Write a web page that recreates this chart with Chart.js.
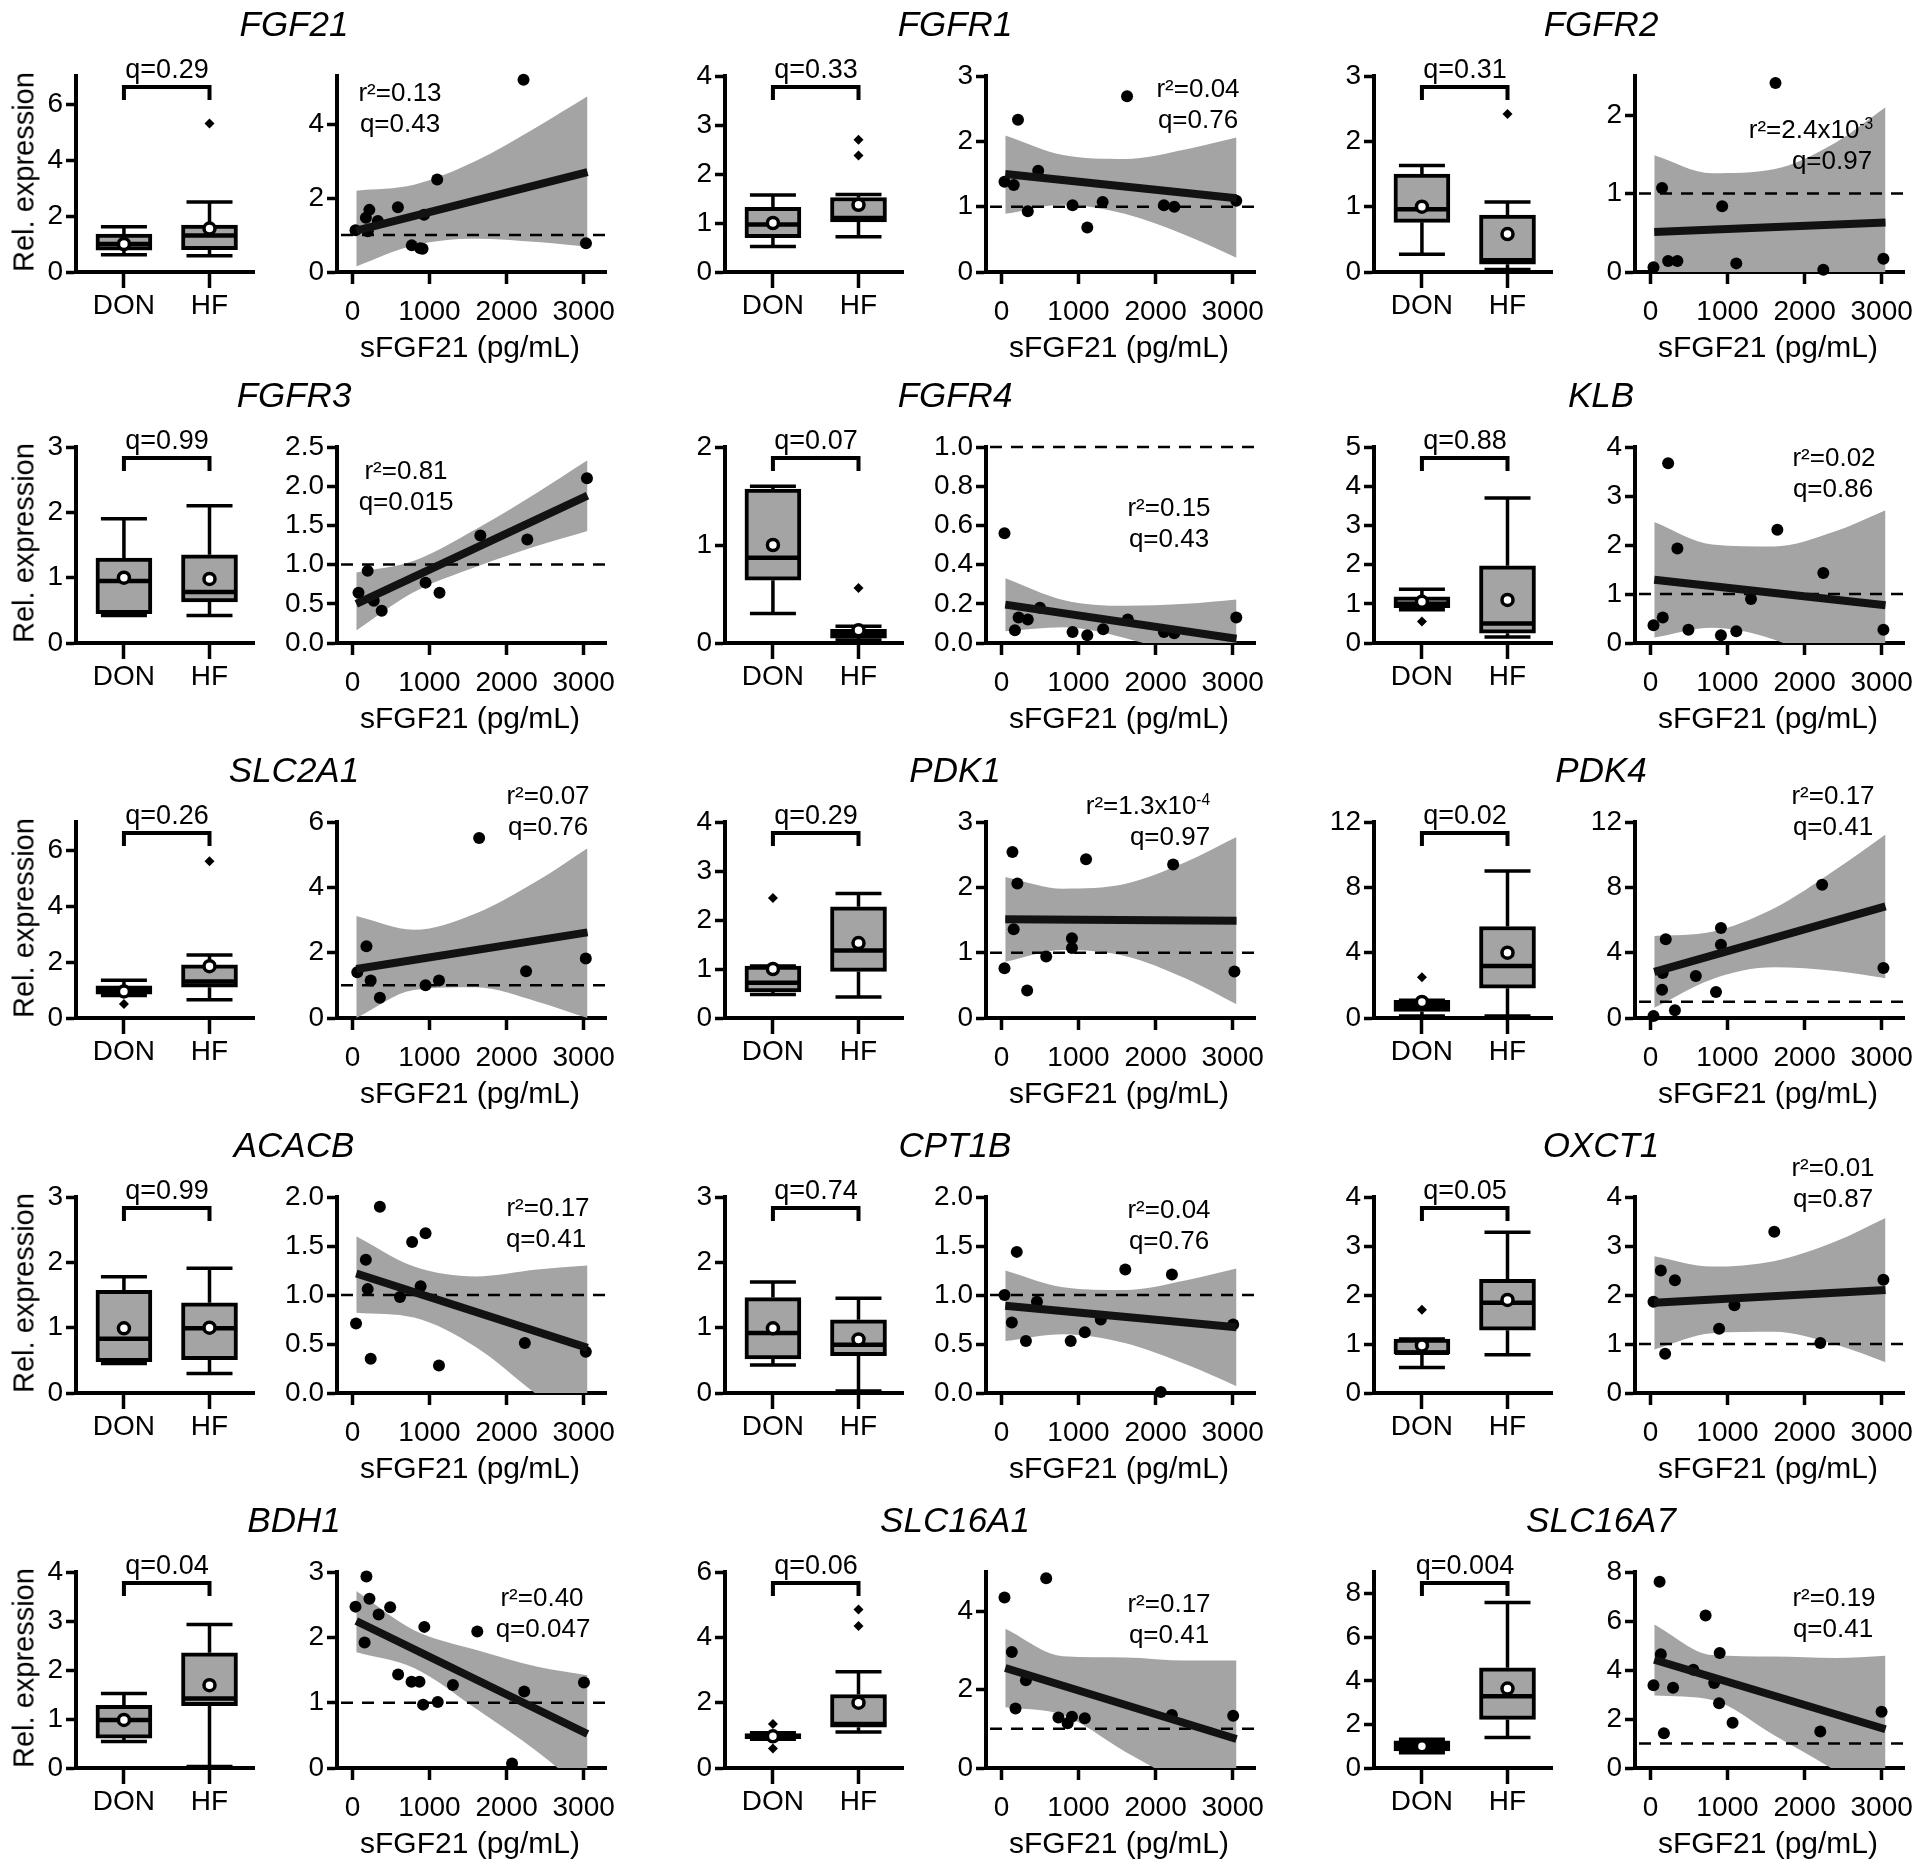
<!DOCTYPE html>
<html>
<head>
<meta charset="utf-8">
<script src="https://cdn.jsdelivr.net/npm/chart.js"></script>
<style>
  html, body { margin: 0; padding: 0; background: #fff; overflow: hidden; }
  #fig { position: relative; width: 1920px; height: 1864px; overflow: hidden;
         font-family: 'Liberation Sans', Arial, Helvetica, sans-serif; color: #000; }
  canvas { position: absolute; }
  .lbl { position: absolute; transform: translate(-50%, -50%); white-space: nowrap; line-height: 1; }
  .gene { font-size: 35px; font-style: italic; }
  .q { font-size: 27px; }
  .stat { font-size: 26px; }
  .xt { font-size: 30px; }
  .yt { font-size: 29px; transform: translate(-50%, -50%) rotate(-90deg); }
  sup { font-size: 0.6em; position: relative; top: -0.6em; vertical-align: baseline; line-height: 0; }
</style>
</head>
<body>
<div id="fig"></div>
<script>
// box stats are [lower whisker, Q1, median, Q3, upper whisker, mean]
const groups = ['DON', 'HF'];
const sfgfTicks = [0, 1000, 2000, 3000];
const bandX = [50, 800, 1600, 2400, 3050];   // sFGF21 values where the 95% band was read
const fitX = [50, 3050];

// FGF21
const fgf21Don = [0.62, 0.78, 1.0, 1.35, 1.62, 1.0];
const fgf21Hf = [0.58, 0.8, 1.3, 1.68, 2.5, 1.55];
const fgf21DonOut = [];
const fgf21HfOut = [5.3];
const fgf21X = [2220, 1100, 590, 220, 175, 330, 930, 40, 200, 770, 880, 910, 3030];
const fgf21Y = [5.2, 2.5, 1.75, 1.68, 1.47, 1.38, 1.55, 1.13, 1.1, 0.72, 0.64, 0.63, 0.78];
const fgf21Fit = [1.12, 2.7];
const fgf21Up = [2.2, 2.36, 3.0, 3.93, 4.75];
const fgf21Lo = [0.15, 0.72, 0.9, 0.81, 0.68];

// FGFR1
const fgfr1Don = [0.52, 0.7, 0.97, 1.32, 1.57, 1.0];
const fgfr1Hf = [0.72, 1.02, 1.1, 1.52, 1.58, 1.37];
const fgfr1DonOut = [];
const fgfr1HfOut = [2.38, 2.7];
const fgfr1X = [1630, 215, 477, 40, 160, 342, 923, 1313, 1114, 2108, 2243, 3047];
const fgfr1Y = [2.69, 2.33, 1.55, 1.38, 1.33, 0.93, 1.02, 1.07, 0.68, 1.02, 1.0, 1.09];
const fgfr1Fit = [1.5, 1.13];
const fgfr1Up = [2.09, 1.79, 1.73, 1.88, 2.06];
const fgfr1Lo = [0.89, 1.03, 0.89, 0.56, 0.22];

// FGFR2
const fgfr2Don = [0.27, 0.76, 0.96, 1.5, 1.63, 1.0];
const fgfr2Hf = [0.04, 0.12, 0.18, 0.87, 1.07, 0.58];
const fgfr2DonOut = [];
const fgfr2HfOut = [2.42];
const fgfr2X = [1623, 151, 931, 40, 230, 350, 1114, 2243, 3023];
const fgfr2Y = [2.41, 1.07, 0.84, 0.06, 0.14, 0.14, 0.11, 0.03, 0.17];
const fgfr2Fit = [0.51, 0.63];
const fgfr2Up = [1.49, 1.26, 1.31, 1.65, 2.1];
const fgfr2Lo = [-0.47, -0.18, -0.17, -0.45, -0.86];

// FGFR3
const fgfr3Don = [0.42, 0.45, 0.95, 1.3, 1.9, 1.0];
const fgfr3Hf = [0.42, 0.63, 0.78, 1.35, 2.1, 0.98];
const fgfr3DonOut = [];
const fgfr3HfOut = [];
const fgfr3X = [3043, 1660, 2269, 198, 949, 1130, 79, 277, 380];
const fgfr3Y = [2.1, 1.37, 1.32, 0.92, 0.77, 0.64, 0.64, 0.54, 0.41];
const fgfr3Fit = [0.5, 1.88];
const fgfr3Up = [0.9, 1.05, 1.45, 1.92, 2.33];
const fgfr3Lo = [0.16, 0.65, 0.97, 1.24, 1.43];

// FGFR4
const fgfr4Don = [0.3, 0.64, 0.87, 1.57, 1.6, 1.0];
const fgfr4Hf = [0.03, 0.05, 0.09, 0.14, 0.17, 0.13];
const fgfr4DonOut = [];
const fgfr4HfOut = [0.56];
const fgfr4X = [40, 175, 223, 342, 500, 923, 1114, 1320, 1640, 2108, 2243, 3047];
const fgfr4Y = [0.56, 0.065, 0.13, 0.12, 0.18, 0.056, 0.04, 0.07, 0.12, 0.056, 0.05, 0.13];
const fgfr4Fit = [0.196, 0.022];
const fgfr4Up = [0.33, 0.22, 0.19, 0.2, 0.222];
const fgfr4Lo = [0.06, 0.08, 0.026, -0.075, -0.178];

// KLB
const klbDon = [0.85, 0.9, 1.0, 1.18, 1.37, 1.05];
const klbHf = [0.15, 0.25, 0.5, 1.97, 3.7, 1.1];
const klbDonOut = [0.55];
const klbHfOut = [];
const klbX = [230, 350, 1647, 2243, 1305, 40, 160, 493, 915, 1114, 3023];
const klbY = [3.67, 1.93, 2.31, 1.43, 0.9, 0.36, 0.52, 0.27, 0.16, 0.24, 0.27];
const klbFit = [1.29, 0.77];
const klbUp = [2.47, 2.01, 1.97, 2.28, 2.71];
const klbLo = [0.11, 0.31, 0.07, -0.52, -1.17];

// SLC2A1
const slc2a1Don = [0.8, 0.85, 1.0, 1.15, 1.35, 0.95];
const slc2a1Hf = [0.65, 1.1, 1.3, 1.9, 2.25, 1.85];
const slc2a1DonOut = [0.5];
const slc2a1HfOut = [5.6];
const slc2a1X = [1644, 182, 63, 237, 356, 949, 1123, 2253, 3028];
const slc2a1Y = [5.51, 2.2, 1.4, 1.15, 0.62, 1.0, 1.15, 1.43, 1.82];
const slc2a1Fit = [1.5, 2.62];
const slc2a1Up = [3.12, 2.7, 3.2, 4.2, 5.2];
const slc2a1Lo = [0.0, 0.86, 0.94, 0.5, 0.0];

// PDK1
const pdk1Don = [0.48, 0.53, 0.72, 1.06, 1.06, 1.0];
const pdk1Hf = [0.43, 0.95, 1.38, 2.27, 2.54, 1.53];
const pdk1DonOut = [2.45];
const pdk1HfOut = [];
const pdk1X = [143, 207, 1098, 2228, 159, 915, 915, 581, 40, 334, 3023];
const pdk1Y = [2.54, 2.06, 2.43, 2.35, 1.36, 1.22, 1.07, 0.94, 0.76, 0.42, 0.71];
const pdk1Fit = [1.51, 1.49];
const pdk1Up = [2.16, 1.98, 2.05, 2.39, 2.77];
const pdk1Lo = [0.86, 1.04, 0.95, 0.6, 0.21];

// PDK4
const pdk4Don = [0.12, 0.4, 0.75, 1.08, 1.08, 0.98];
const pdk4Hf = [0.12, 1.82, 3.18, 5.6, 9.0, 4.0];
const pdk4DonOut = [2.5];
const pdk4HfOut = [];
const pdk4X = [2228, 915, 915, 199, 159, 151, 589, 851, 318, 40, 3023];
const pdk4Y = [8.16, 5.51, 4.49, 4.82, 2.76, 1.73, 2.57, 1.59, 0.47, 0.12, 3.06];
const pdk4Fit = [2.82, 6.84];
const pdk4Up = [5.02, 5.28, 6.7, 9.07, 11.24];
const pdk4Lo = [0.62, 2.38, 3.1, 2.87, 2.44];

// ACACB
const acacbDon = [0.45, 0.48, 0.83, 1.57, 1.78, 0.99];
const acacbHf = [0.3, 0.51, 0.99, 1.38, 1.91, 1.0];
const acacbDonOut = [];
const acacbHfOut = [];
const acacbX = [356, 949, 775, 174, 198, 885, 617, 47, 237, 1123, 2237, 3028];
const acacbY = [1.9, 1.63, 1.54, 1.36, 1.06, 1.09, 0.98, 0.71, 0.35, 0.28, 0.51, 0.42];
const acacbFit = [1.22, 0.46];
const acacbUp = [1.6, 1.29, 1.19, 1.26, 1.3];
const acacbLo = [0.82, 0.77, 0.47, -0.02, -0.38];

// CPT1B
const cpt1bDon = [0.43, 0.52, 0.92, 1.46, 1.7, 0.99];
const cpt1bHf = [0.03, 0.57, 0.74, 1.12, 1.45, 0.82];
const cpt1bDonOut = [];
const cpt1bHfOut = [];
const cpt1bX = [199, 1607, 2212, 40, 461, 135, 318, 899, 1082, 1289, 2068, 3007];
const cpt1bY = [1.44, 1.26, 1.21, 1.0, 0.93, 0.72, 0.53, 0.53, 0.62, 0.75, 0.01, 0.7];
const cpt1bFit = [0.89, 0.67];
const cpt1bUp = [1.25, 1.08, 1.05, 1.15, 1.27];
const cpt1bLo = [0.53, 0.6, 0.51, 0.29, 0.07];

// OXCT1
const oxct1Don = [0.52, 0.8, 0.82, 1.1, 1.1, 0.97];
const oxct1Hf = [0.78, 1.28, 1.84, 2.32, 3.28, 1.9];
const oxct1DonOut = [1.7];
const oxct1HfOut = [];
const oxct1X = [1607, 135, 318, 40, 1090, 891, 191, 2204, 3023];
const oxct1Y = [3.29, 2.5, 2.3, 1.86, 1.79, 1.31, 0.8, 1.02, 2.31];
const oxct1Fit = [1.84, 2.1];
const oxct1Up = [2.79, 2.58, 2.69, 3.09, 3.57];
const oxct1Lo = [0.89, 1.22, 1.25, 0.99, 0.63];

// BDH1
const bdh1Don = [0.54, 0.61, 0.98, 1.28, 1.52, 0.98];
const bdh1Hf = [0.03, 1.27, 1.42, 2.35, 2.93, 1.69];
const bdh1DonOut = [];
const bdh1HfOut = [];
const bdh1X = [182, 221, 40, 490, 340, 933, 1620, 158, 593, 767, 870, 1304, 2229, 3004, 917, 1107, 2071];
const bdh1Y = [2.93, 2.59, 2.47, 2.46, 2.35, 2.16, 2.09, 1.92, 1.43, 1.32, 1.32, 1.27, 1.17, 1.31, 0.97, 1.01, 0.07];
const bdh1Fit = [2.25, 0.52];
const bdh1Up = [2.71, 2.11, 1.81, 1.55, 1.42];
const bdh1Lo = [1.77, 1.53, 0.91, 0.25, -0.38];

// SLC16A1
const slc16a1Don = [0.88, 0.9, 0.97, 1.05, 1.08, 0.97];
const slc16a1Hf = [1.1, 1.25, 1.35, 2.25, 2.95, 2.0];
const slc16a1DonOut = [0.6, 1.35];
const slc16a1HfOut = [4.35, 4.85];
const slc16a1X = [581, 40, 135, 318, 183, 740, 915, 859, 1082, 2212, 3007];
const slc16a1Y = [4.84, 4.35, 2.96, 2.24, 1.52, 1.29, 1.31, 1.14, 1.27, 1.35, 1.33];
const slc16a1Fit = [2.55, 0.74];
const slc16a1Up = [3.55, 2.85, 2.82, 2.74, 2.74];
const slc16a1Lo = [1.55, 1.35, 0.42, -0.46, -1.26];

// SLC16A7
const slc16a7Don = [0.7, 0.78, 1.0, 1.25, 1.32, 1.0];
const slc16a7Hf = [1.4, 2.23, 3.3, 4.6, 7.6, 3.65];
const slc16a7DonOut = [];
const slc16a7HfOut = [];
const slc16a7X = [119, 716, 135, 899, 557, 40, 294, 827, 891, 1066, 175, 2204, 2999];
const slc16a7Y = [7.6, 6.22, 4.64, 4.69, 4.01, 3.38, 3.28, 3.47, 2.64, 1.85, 1.42, 1.49, 2.3];
const slc16a7Fit = [4.42, 1.58];
const slc16a7Up = [5.86, 4.61, 4.55, 4.49, 4.58];
const slc16a7Lo = [2.96, 2.78, 1.35, -0.11, -1.42];

const panels = [
  { gene: 'FGF21', q: 'q=0.29', r2: 'r²=0.13', rq: 'q=0.43', boxMax: 7, boxTicks: [0, 2, 4, 6], scMax: 5.3, scTicks: [0, 2, 4], dec: 0,
    don: fgf21Don, hf: fgf21Hf, donOut: fgf21DonOut, hfOut: fgf21HfOut, xs: fgf21X, ys: fgf21Y, fit: fgf21Fit, up: fgf21Up, lo: fgf21Lo },
  { gene: 'FGFR1', q: 'q=0.33', r2: 'r²=0.04', rq: 'q=0.76', boxMax: 4, boxTicks: [0, 1, 2, 3, 4], scMax: 3, scTicks: [0, 1, 2, 3], dec: 0,
    don: fgfr1Don, hf: fgfr1Hf, donOut: fgfr1DonOut, hfOut: fgfr1HfOut, xs: fgfr1X, ys: fgfr1Y, fit: fgfr1Fit, up: fgfr1Up, lo: fgfr1Lo },
  { gene: 'FGFR2', q: 'q=0.31', r2: 'r²=2.4x10<sup>-3</sup>', rq: 'q=0.97', boxMax: 3, boxTicks: [0, 1, 2, 3], scMax: 2.5, scTicks: [0, 1, 2], dec: 0,
    don: fgfr2Don, hf: fgfr2Hf, donOut: fgfr2DonOut, hfOut: fgfr2HfOut, xs: fgfr2X, ys: fgfr2Y, fit: fgfr2Fit, up: fgfr2Up, lo: fgfr2Lo },
  { gene: 'FGFR3', q: 'q=0.99', r2: 'r²=0.81', rq: 'q=0.015', boxMax: 3, boxTicks: [0, 1, 2, 3], scMax: 2.5, scTicks: [0, 0.5, 1, 1.5, 2, 2.5], dec: 1,
    don: fgfr3Don, hf: fgfr3Hf, donOut: fgfr3DonOut, hfOut: fgfr3HfOut, xs: fgfr3X, ys: fgfr3Y, fit: fgfr3Fit, up: fgfr3Up, lo: fgfr3Lo },
  { gene: 'FGFR4', q: 'q=0.07', r2: 'r²=0.15', rq: 'q=0.43', boxMax: 2, boxTicks: [0, 1, 2], scMax: 1, scTicks: [0, 0.2, 0.4, 0.6, 0.8, 1], dec: 1,
    don: fgfr4Don, hf: fgfr4Hf, donOut: fgfr4DonOut, hfOut: fgfr4HfOut, xs: fgfr4X, ys: fgfr4Y, fit: fgfr4Fit, up: fgfr4Up, lo: fgfr4Lo },
  { gene: 'KLB', q: 'q=0.88', r2: 'r²=0.02', rq: 'q=0.86', boxMax: 5, boxTicks: [0, 1, 2, 3, 4, 5], scMax: 4, scTicks: [0, 1, 2, 3, 4], dec: 0,
    don: klbDon, hf: klbHf, donOut: klbDonOut, hfOut: klbHfOut, xs: klbX, ys: klbY, fit: klbFit, up: klbUp, lo: klbLo },
  { gene: 'SLC2A1', q: 'q=0.26', r2: 'r²=0.07', rq: 'q=0.76', boxMax: 7, boxTicks: [0, 2, 4, 6], scMax: 6, scTicks: [0, 2, 4, 6], dec: 0,
    don: slc2a1Don, hf: slc2a1Hf, donOut: slc2a1DonOut, hfOut: slc2a1HfOut, xs: slc2a1X, ys: slc2a1Y, fit: slc2a1Fit, up: slc2a1Up, lo: slc2a1Lo },
  { gene: 'PDK1', q: 'q=0.29', r2: 'r²=1.3x10<sup>-4</sup>', rq: 'q=0.97', boxMax: 4, boxTicks: [0, 1, 2, 3, 4], scMax: 3, scTicks: [0, 1, 2, 3], dec: 0,
    don: pdk1Don, hf: pdk1Hf, donOut: pdk1DonOut, hfOut: pdk1HfOut, xs: pdk1X, ys: pdk1Y, fit: pdk1Fit, up: pdk1Up, lo: pdk1Lo },
  { gene: 'PDK4', q: 'q=0.02', r2: 'r²=0.17', rq: 'q=0.41', boxMax: 12, boxTicks: [0, 2, 4, 6, 8, 10, 12], scMax: 12, scTicks: [0, 2, 4, 6, 8, 10, 12], dec: 0,
    don: pdk4Don, hf: pdk4Hf, donOut: pdk4DonOut, hfOut: pdk4HfOut, xs: pdk4X, ys: pdk4Y, fit: pdk4Fit, up: pdk4Up, lo: pdk4Lo },
  { gene: 'ACACB', q: 'q=0.99', r2: 'r²=0.17', rq: 'q=0.41', boxMax: 3, boxTicks: [0, 1, 2, 3], scMax: 2, scTicks: [0, 0.5, 1, 1.5, 2], dec: 1,
    don: acacbDon, hf: acacbHf, donOut: acacbDonOut, hfOut: acacbHfOut, xs: acacbX, ys: acacbY, fit: acacbFit, up: acacbUp, lo: acacbLo },
  { gene: 'CPT1B', q: 'q=0.74', r2: 'r²=0.04', rq: 'q=0.76', boxMax: 3, boxTicks: [0, 1, 2, 3], scMax: 2, scTicks: [0, 0.5, 1, 1.5, 2], dec: 1,
    don: cpt1bDon, hf: cpt1bHf, donOut: cpt1bDonOut, hfOut: cpt1bHfOut, xs: cpt1bX, ys: cpt1bY, fit: cpt1bFit, up: cpt1bUp, lo: cpt1bLo },
  { gene: 'OXCT1', q: 'q=0.05', r2: 'r²=0.01', rq: 'q=0.87', boxMax: 4, boxTicks: [0, 1, 2, 3, 4], scMax: 4, scTicks: [0, 1, 2, 3, 4], dec: 0,
    don: oxct1Don, hf: oxct1Hf, donOut: oxct1DonOut, hfOut: oxct1HfOut, xs: oxct1X, ys: oxct1Y, fit: oxct1Fit, up: oxct1Up, lo: oxct1Lo },
  { gene: 'BDH1', q: 'q=0.04', r2: 'r²=0.40', rq: 'q=0.047', boxMax: 4, boxTicks: [0, 1, 2, 3, 4], scMax: 3, scTicks: [0, 1, 2, 3], dec: 0,
    don: bdh1Don, hf: bdh1Hf, donOut: bdh1DonOut, hfOut: bdh1HfOut, xs: bdh1X, ys: bdh1Y, fit: bdh1Fit, up: bdh1Up, lo: bdh1Lo },
  { gene: 'SLC16A1', q: 'q=0.06', r2: 'r²=0.17', rq: 'q=0.41', boxMax: 6, boxTicks: [0, 2, 4, 6], scMax: 5, scTicks: [0, 2, 4], dec: 0,
    don: slc16a1Don, hf: slc16a1Hf, donOut: slc16a1DonOut, hfOut: slc16a1HfOut, xs: slc16a1X, ys: slc16a1Y, fit: slc16a1Fit, up: slc16a1Up, lo: slc16a1Lo },
  { gene: 'SLC16A7', q: 'q=0.004', r2: 'r²=0.19', rq: 'q=0.41', boxMax: 9, boxTicks: [0, 2, 4, 6, 8], scMax: 8, scTicks: [0, 2, 4, 6, 8], dec: 0,
    don: slc16a7Don, hf: slc16a7Hf, donOut: slc16a7DonOut, hfOut: slc16a7HfOut, xs: slc16a7X, ys: slc16a7Y, fit: slc16a7Fit, up: slc16a7Up, lo: slc16a7Lo }
];

// layout (px)
const colX = [0, 649, 1298];
const rowBase = [272, 643, 1018, 1393, 1768];
const titleX = [294, 306, 303];
// r² label: [centre x, y offset from axis], q label: [centre x]
const statPos = [
  [400, -180, 400], [549, -184, 549], [513, -143, 534],
  [406, -173, 406], [520, -136, 520], [536, -186, 535],
  [548, -223, 548], [499, -213, 521], [535, -223, 535],
  [548, -186, 546], [520, -184, 520], [535, -226, 535],
  [542, -171, 543], [520, -165, 520], [536, -171, 535]
];
const AREA_H = 196, Y_W = 70, X_H = 62, PAD_T = 40, PAD_R = 45;
const BOX_L = 76, BOX_R = 254, SC_L = 337, SC_R = 606;
const GRAY = '#a4a4a4';

Chart.defaults.font.family = "'Liberation Sans', Arial, Helvetica, sans-serif";
Chart.defaults.color = '#000';

const fig = document.getElementById('fig');

function place(cls, html, x, y) {
  const d = document.createElement('div');
  d.className = 'lbl ' + cls;
  d.innerHTML = html;
  d.style.left = x + 'px';
  d.style.top = y + 'px';
  fig.appendChild(d);
}

function makeCanvas(left, top, w, h) {
  const c = document.createElement('canvas');
  c.width = w; c.height = h;
  c.style.left = left + 'px'; c.style.top = top + 'px';
  c.style.width = w + 'px'; c.style.height = h + 'px';
  fig.appendChild(c);
  return c;
}

function axisBase() {
  return {
    offset: false,
    border: { display: true, color: '#000', width: 4 },
    grid: { display: true, offset: false, drawOnChartArea: false, drawTicks: true, tickLength: 10, tickWidth: 3.5, tickColor: '#000' }
  };
}

function yAxis(max, ticks, dec) {
  const a = axisBase();
  return Object.assign(a, {
    type: 'linear', min: 0, max: max,
    afterBuildTicks: s => { s.ticks = ticks.map(v => ({ value: v })); },
    afterFit: s => { s.width = Y_W; },
    ticks: { font: { size: 28 }, color: '#000', padding: 3, callback: v => Number(v).toFixed(dec) }
  });
}

function xAxis(min, max, ticks, fmt, tickLen, pad) {
  const a = axisBase();
  a.grid.tickLength = tickLen;
  return Object.assign(a, {
    type: 'linear', min: min, max: max,
    afterBuildTicks: s => { s.ticks = ticks.map(v => ({ value: v })); },
    afterFit: s => { s.height = X_H; },
    ticks: { font: { size: 28 }, color: '#000', padding: pad, maxRotation: 0, autoSkip: false, callback: fmt }
  });
}

function boxParts(stats) {
  return {
    id: 'boxParts',
    afterDatasetDraw(chart, args) {
      if (args.index !== 2) return;
      const { ctx, chartArea } = chart;
      const x = chart.scales.x, y = chart.scales.y;
      ctx.save();
      ctx.strokeStyle = '#000';
      ctx.lineCap = 'butt';
      stats.forEach((s, i) => {
        const cx = x.getPixelForValue(i + 1);
        ctx.lineWidth = 3.5;
        ctx.beginPath();
        ctx.moveTo(cx, y.getPixelForValue(s[0])); ctx.lineTo(cx, y.getPixelForValue(s[1]));
        ctx.moveTo(cx, y.getPixelForValue(s[3])); ctx.lineTo(cx, y.getPixelForValue(s[4]));
        ctx.moveTo(cx - 23, y.getPixelForValue(s[0])); ctx.lineTo(cx + 23, y.getPixelForValue(s[0]));
        ctx.moveTo(cx - 23, y.getPixelForValue(s[4])); ctx.lineTo(cx + 23, y.getPixelForValue(s[4]));
        ctx.stroke();
        ctx.lineWidth = 4.5;
        ctx.beginPath();
        ctx.moveTo(cx - 27, y.getPixelForValue(s[2])); ctx.lineTo(cx + 27, y.getPixelForValue(s[2]));
        ctx.stroke();
      });
      // significance bracket
      const x1 = x.getPixelForValue(1), x2 = x.getPixelForValue(2);
      const top = chartArea.top + 11, leg = chartArea.top + 24;
      ctx.lineWidth = 4;
      ctx.lineJoin = 'miter';
      ctx.beginPath();
      ctx.moveTo(x1, leg); ctx.lineTo(x1, top); ctx.lineTo(x2, top); ctx.lineTo(x2, leg);
      ctx.stroke();
      ctx.restore();
    }
  };
}

function refLine(value) {
  return {
    id: 'refLine',
    afterDatasetDraw(chart, args) {
      if (args.index !== 2) return;
      const { ctx, chartArea } = chart;
      const py = chart.scales.y.getPixelForValue(value);
      ctx.save();
      ctx.strokeStyle = '#000';
      ctx.lineWidth = 2.5;
      ctx.setLineDash([12, 9]);
      ctx.beginPath();
      ctx.moveTo(chartArea.left + 4, py);
      ctx.lineTo(chartArea.right + 4, py);
      ctx.stroke();
      ctx.restore();
    }
  };
}

const common = {
  responsive: false, animation: false, events: [], devicePixelRatio: 1,
  layout: { padding: { top: PAD_T, right: PAD_R, left: 0, bottom: 0 } },
  plugins: { legend: { display: false }, tooltip: { enabled: false } }
};

function boxChart(p, gx, base) {
  const w = Y_W + (BOX_R - BOX_L) + PAD_R, h = PAD_T + AREA_H + X_H;
  const c = makeCanvas(gx + BOX_L - Y_W, base - AREA_H - PAD_T, w, h);
  const outliers = p.donOut.map(v => ({ x: 1, y: v })).concat(p.hfOut.map(v => ({ x: 2, y: v })));
  new Chart(c, {
    type: 'scatter',
    data: {
      datasets: [
        { type: 'scatter', data: [{ x: 1, y: p.don[5] }, { x: 2, y: p.hf[5] }], pointRadius: 5.5,
          pointBackgroundColor: '#fff', pointBorderColor: '#000', pointBorderWidth: 3.5, clip: false, order: 0 },
        { type: 'scatter', data: outliers, pointStyle: 'rectRot', pointRadius: 5,
          pointBackgroundColor: '#000', pointBorderWidth: 0, clip: false, order: 1 },
        { type: 'bar', data: [{ x: 1, y: [p.don[1], p.don[3]] }, { x: 2, y: [p.hf[1], p.hf[3]] }],
          backgroundColor: GRAY, borderColor: '#000', borderWidth: 4, borderSkipped: false, barThickness: 56, order: 2 }
      ]
    },
    options: Object.assign({}, common, {
      scales: {
        x: xAxis(0.44, 2.52, [1, 2], v => groups[v - 1], 16, 1),
        y: yAxis(p.boxMax, p.boxTicks, 0)
      }
    }),
    plugins: [boxParts([p.don, p.hf])]
  });
}

function scatterChart(p, gx, base) {
  const w = Y_W + (SC_R - SC_L) + PAD_R, h = PAD_T + AREA_H + X_H;
  const c = makeCanvas(gx + SC_L - Y_W, base - AREA_H - PAD_T, w, h);
  new Chart(c, {
    type: 'scatter',
    data: {
      datasets: [
        { type: 'line', data: fitX.map((v, i) => ({ x: v, y: p.fit[i] })), borderColor: '#121212', borderWidth: 8,
          borderCapStyle: 'butt', pointRadius: 0, fill: false, order: 0 },
        { type: 'scatter', data: p.xs.map((v, i) => ({ x: v, y: p.ys[i] })), pointRadius: 6,
          pointBackgroundColor: '#000', pointBorderWidth: 0, clip: false, order: 1 },
        { type: 'line', data: bandX.map((v, i) => ({ x: v, y: p.up[i] })), borderColor: 'rgba(0,0,0,0)', borderWidth: 0,
          pointRadius: 0, fill: '+1', backgroundColor: GRAY, cubicInterpolationMode: 'monotone', order: 2 },
        { type: 'line', data: bandX.map((v, i) => ({ x: v, y: p.lo[i] })), borderColor: 'rgba(0,0,0,0)', borderWidth: 0,
          pointRadius: 0, fill: false, cubicInterpolationMode: 'monotone', order: 3 }
      ]
    },
    options: Object.assign({}, common, {
      scales: {
        x: xAxis(-200, 3290, sfgfTicks, v => String(v), 12, 11),
        y: yAxis(p.scMax, p.scTicks, p.dec)
      }
    }),
    plugins: [refLine(1)]
  });
}

panels.forEach((p, i) => {
  const col = i % 3, row = Math.floor(i / 3);
  const gx = colX[col], base = rowBase[row];
  boxChart(p, gx, base);
  scatterChart(p, gx, base);
  place('gene', p.gene, gx + titleX[col], base - 249);
  place('q', p.q, gx + 167, base - 203);
  place('stat', p.r2, gx + statPos[i][0], base + statPos[i][1]);
  place('stat', p.rq, gx + statPos[i][2], base + statPos[i][1] + 31);
  place('xt', 'sFGF21 (pg/mL)', gx + 470, base + 75);
  if (col === 0) place('yt', 'Rel. expression', 24, base - 100);
});
</script>
</body>
</html>
